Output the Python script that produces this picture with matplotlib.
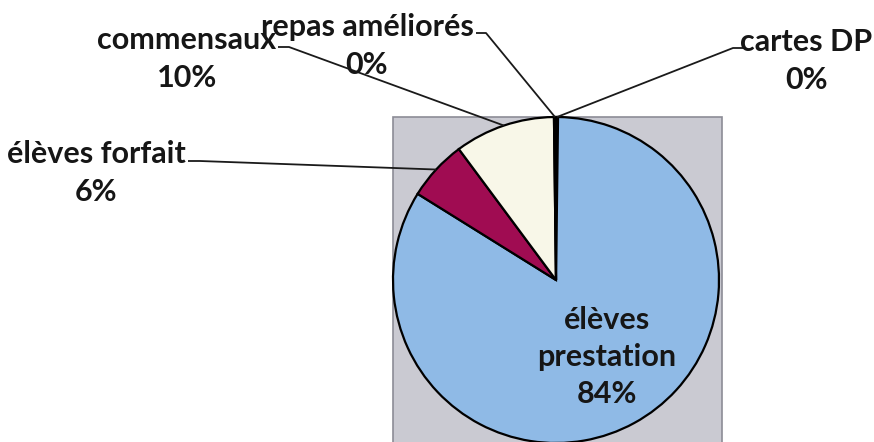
import numpy as np
import matplotlib
matplotlib.use("Agg")
import matplotlib.pyplot as plt
from matplotlib.patches import Rectangle

# ---- data ----
categories = ["cartes DP", "élèves prestation", "élèves forfait", "commensaux", "repas améliorés"]
values = [0.2, 84, 6, 10, 0.2]
colors = ["#f8f7e8", "#8fbae6", "#a00c52", "#f8f7e8", "#f8f7e8"]

W, H = 874, 442
plt.rcParams['font.family'] = ['Lato', 'DejaVu Sans']

fig = plt.figure(figsize=(W / 100, H / 100), dpi=100)
ax = fig.add_axes([0, 0, 1, 1])

def Y(p):
    return H - p

cx, cy, r = 556, Y(280), 163

# plot-area background
ax.add_patch(Rectangle((393, Y(450)), 329, 450 - 117, facecolor="#cacad2",
                       edgecolor="#8c8c96", linewidth=1.2, zorder=0))

wedges, _ = ax.pie(values, colors=colors, startangle=90, counterclock=False,
                   center=(cx, cy), radius=r, frame=True,
                   wedgeprops=dict(edgecolor="black", linewidth=1.6))
for w in wedges:
    w.set_zorder(2)

ax.set_xlim(0, W)
ax.set_ylim(0, H)
ax.set_aspect('auto')
ax.axis('off')

total = sum(values)
pct = [round(v / total * 100) for v in values]

fs = 22
tc = "#161616"

# outside labels: text block centre, leader start and elbow (pixel coords)
outside = {
    "commensaux": dict(x=187, y=59, start=(278, 47), elbow=(289, 47)),
    "repas améliorés": dict(x=367, y=46, start=(476, 33), elbow=(486, 33)),
    "cartes DP": dict(x=806, y=61, start=(745, 48), elbow=(733, 48)),
    "élèves forfait": dict(x=96, y=173, start=(188, 161), elbow=(200, 161)),
}

for i, (w, name) in enumerate(zip(wedges, categories)):
    if name in outside:
        o = outside[name]
        ax.text(o["x"], Y(o["y"]), f"{name}\n{pct[i]}%", ha="center", va="center",
                fontsize=fs, fontweight="bold", color=tc, linespacing=1.4, zorder=5)
    else:
        ax.text(607, Y(357), "élèves\nprestation\n" + f"{pct[i]}%", ha="center", va="center",
                fontsize=fs, fontweight="bold", color=tc, linespacing=1.4, zorder=5)

for i, (w, name) in enumerate(zip(wedges, categories)):
    if name not in outside:
        continue
    mid = np.deg2rad((w.theta1 + w.theta2) / 2)
    ex, ey = cx + r * np.cos(mid), cy + r * np.sin(mid)
    o = outside[name]
    ax.plot([o["start"][0], o["elbow"][0], ex], [Y(o["start"][1]), Y(o["elbow"][1]), ey],
            color="#1a1a1a", linewidth=1.3, zorder=4, solid_capstyle="butt")

fig.savefig("out.png", dpi=100, facecolor="white")
